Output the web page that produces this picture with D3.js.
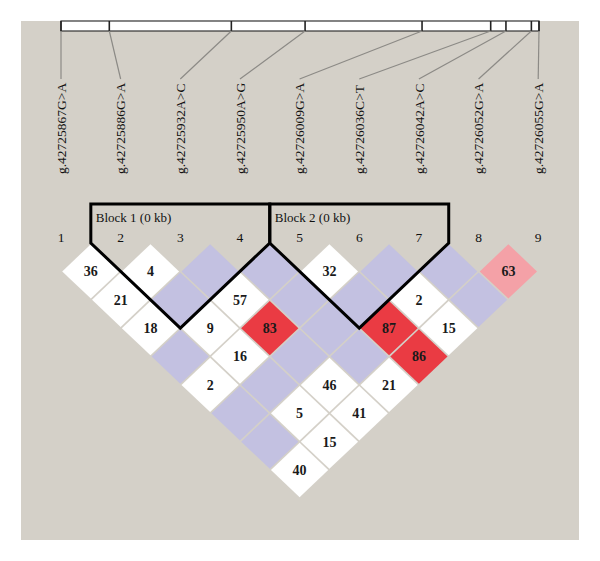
<!DOCTYPE html>
<html>
<head>
<meta charset="utf-8">
<script src="https://cdn.jsdelivr.net/npm/d3@7"></script>
<style>
  html, body { margin: 0; padding: 0; background: #fff; }
  text { font-family: "Liberation Serif", "DejaVu Serif", serif; }
</style>
</head>
<body>
<div id="svg-container"></div>
<script>
// marker names, in chromosome order
const markers = [
    "g.42725867G>A", "g.42725886G>A", "g.42725932A>C",
    "g.42725950A>G", "g.42726009G>A", "g.42726036C>T",
    "g.42726042A>C", "g.42726052G>A", "g.42726055G>A"
];
// physical positions as read from the ruler at the top
const positions = [42725867, 42725886, 42725934, 42725963, 42726009,
                   42726036, 42726042, 42726052, 42726055];

// D' x 100, row r holds pairs (i, i+r); null = blank cell (D' = 1)
const dprimeRows = [
    [36, 4, null, null, 32, null, null, 63],
    [21, null, 57, null, null, 2, null],
    [18, 9, 83, null, 87, 15],
    [null, 16, null, null, 86],
    [2, null, 46, 21],
    [null, 5, 41],
    [null, 15],
    [40]
];
// colour class for each cell: w = white, b = blue, r = red, p = pink
const classRows = [
    ["w","w","b","b","w","b","b","p"],
    ["w","b","w","b","b","w","b"],
    ["w","w","r","b","r","w"],
    ["b","w","b","b","r"],
    ["w","b","w","w"],
    ["b","w","w"],
    ["b","w"],
    ["w"]
];
// haplotype blocks (first marker, last marker)
const blocks = [[2, 4], [5, 7]];
const blockNames = ["Block 1 (0 kb)", "Block 2 (0 kb)"];

const colors = {w: "#ffffff", b: "#c3c1e1", r: "#ea3b43", p: "#f4a1a7"};

const W = 600, H = 561;
var svg = d3.select("#svg-container")
    .append("svg")
    .attr("width", W)
    .attr("height", H);

svg.append("rect")
    .attr("x", 21).attr("y", 21)
    .attr("width", 558).attr("height", 519)
    .attr("fill", "#d4d0c8");

// scales
var x = d3.scaleLinear().domain([1, markers.length]).range([61, 538.2]);
var yRow = d3.scaleLinear().domain([0, 8]).range([243, 470]);
var xPhys = d3.scaleLinear()
    .domain([positions[0], positions[positions.length - 1]])
    .range([61, 539]);

const barTop = 21, barBottom = 31, labelTop = 79;

// ruler bar
svg.append("rect")
    .attr("x", xPhys.range()[0]).attr("y", barTop)
    .attr("width", xPhys.range()[1] - xPhys.range()[0])
    .attr("height", barBottom - barTop)
    .attr("fill", "#fff")
    .attr("stroke", "#333")
    .attr("stroke-width", 1.2);

svg.selectAll(".tick")
    .data(positions)
    .enter()
    .append("line")
    .attr("class", "tick")
    .attr("x1", d => xPhys(d)).attr("x2", d => xPhys(d))
    .attr("y1", barTop).attr("y2", barBottom)
    .attr("stroke", "#222")
    .attr("stroke-width", 1.6);

svg.selectAll(".connector")
    .data(positions)
    .enter()
    .append("line")
    .attr("class", "connector")
    .attr("x1", d => xPhys(d))
    .attr("x2", (d, i) => x(i + 1))
    .attr("y1", barBottom).attr("y2", labelTop)
    .attr("stroke", "#8c8a86")
    .attr("stroke-width", 1.2);

// marker names, rotated
svg.selectAll(".mname")
    .data(markers)
    .enter()
    .append("text")
    .attr("class", "mname")
    .attr("transform", (d, i) => "translate(" + x(i + 1) + ",174) rotate(-90)")
    .attr("dy", "0.35em")
    .attr("font-size", 13.5)
    .attr("fill", "#111")
    .text(d => d);

// marker numbers
svg.selectAll(".mnum")
    .data(markers)
    .enter()
    .append("text")
    .attr("class", "mnum")
    .attr("x", (d, i) => x(i + 1))
    .attr("y", 242)
    .attr("text-anchor", "middle")
    .attr("font-size", 13.5)
    .attr("fill", "#111")
    .text((d, i) => i + 1);

// LD cells
var cells = [];
dprimeRows.forEach(function(row, r) {
    row.forEach(function(v, k) {
        cells.push({i: k + 1, j: k + 2 + r, value: v, cls: classRows[r][k]});
    });
});

const hw = (x(2) - x(1)) / 2, hh = yRow(1) - yRow(0), inset = 1.2;

var cellG = svg.selectAll(".cell")
    .data(cells)
    .enter()
    .append("g")
    .attr("class", "cell")
    .attr("transform", d => "translate(" + x((d.i + d.j) / 2) + "," + yRow(d.j - d.i) + ")");

cellG.append("path")
    .attr("d", "M0," + (-hh + inset) + "L" + (hw - inset) + ",0L0," + (hh - inset) + "L" + (-hw + inset) + ",0Z")
    .attr("fill", d => colors[d.cls]);

cellG.filter(d => d.value !== null)
    .append("text")
    .attr("text-anchor", "middle")
    .attr("dy", "0.35em")
    .attr("font-size", 14)
    .attr("font-weight", "bold")
    .attr("fill", "#1a1a1a")
    .text(d => d.value);

// block outlines
const blockTop = 204;
svg.selectAll(".block")
    .data(blocks)
    .enter()
    .append("path")
    .attr("class", "block")
    .attr("d", function(b) {
        var a = b[0], e = b[1];
        return "M" + x(a - 0.5) + "," + blockTop +
            "L" + x(a - 0.5) + "," + yRow(0) +
            "L" + x((a + e) / 2) + "," + yRow(e - a + 1) +
            "L" + x(e + 0.5) + "," + yRow(0) +
            "L" + x(e + 0.5) + "," + blockTop + "Z";
    })
    .attr("fill", "none")
    .attr("stroke", "#000")
    .attr("stroke-width", 3)
    .attr("stroke-linejoin", "miter");

svg.selectAll(".bname")
    .data(blocks)
    .enter()
    .append("text")
    .attr("class", "bname")
    .attr("x", d => x(d[0] - 0.5) + 5)
    .attr("y", 222)
    .attr("font-size", 13)
    .attr("fill", "#111")
    .text((d, i) => blockNames[i]);
</script>
</body>
</html>
